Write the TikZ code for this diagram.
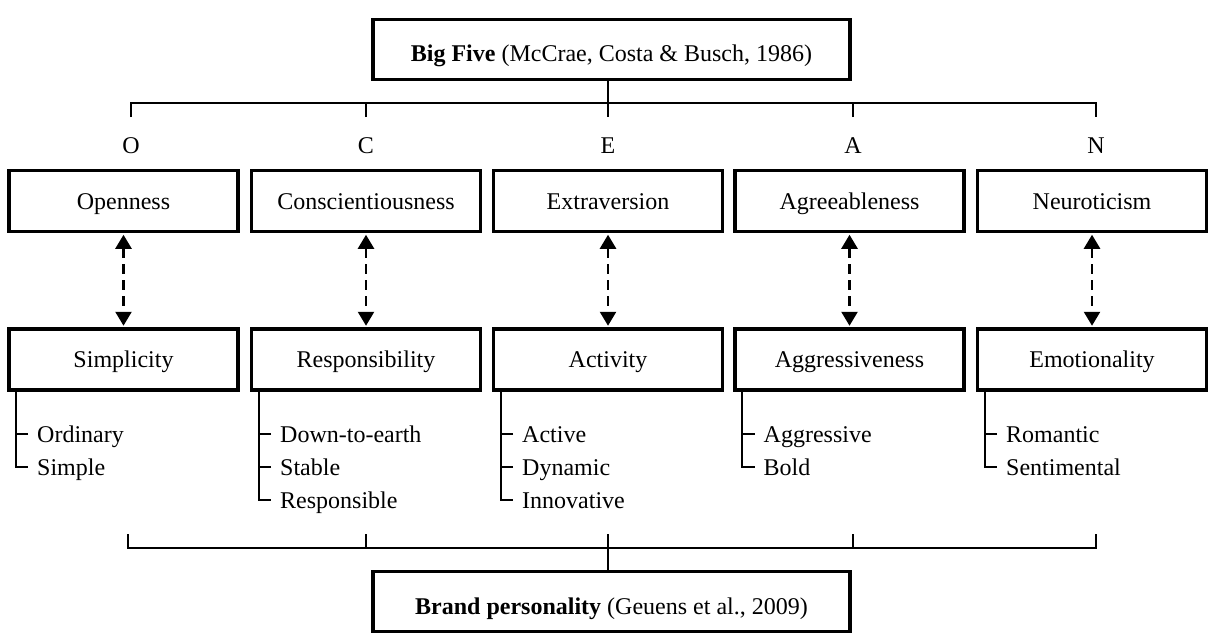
\documentclass[tikz,border=0pt]{standalone}
\usepackage{fontspec}
\setmainfont{Liberation Serif}
\usetikzlibrary{arrows.meta}
\begin{document}
\begin{tikzpicture}[x=1pt,y=-1pt,
  every node/.style={font=\fontsize{24}{28}\selectfont, text height=20pt, text depth=4pt},
  bigbox/.style={draw, line width=3.5pt, minimum width=477pt, minimum height=60pt, inner sep=0pt, text height=25pt, text depth=0pt},
  facbox/.style={draw, line width=3.5pt, minimum width=229pt, minimum height=61pt, inner sep=0pt},
  letter/.style={inner sep=0pt},
  item/.style={anchor=west, inner xsep=9pt, inner ysep=0pt},
  br/.style={line width=2pt},
  sub/.style={line width=2pt},
  dasharrow/.style={line width=2.5pt, dash pattern=on 10pt off 6pt, {Triangle[width=16pt,length=14pt]}-{Triangle[width=16pt,length=14pt]}, shorten <=1.5pt, shorten >=1.5pt}
]
\useasboundingbox (0,0) rectangle (1208,642);

% top and bottom boxes
\node[bigbox] (top) at (611.5,49.5) {\textbf{Big Five} (McCrae, Costa \& Busch, 1986)};
\node[bigbox] (bot) at (611.5,601.5) {\textbf{Brand personality} (Geuens et al., 2009)};

% letters
\node[letter] (lO) at (131,145) {O};
\node[letter] (lC) at (366,145) {C};
\node[letter] (lE) at (608,145) {E};
\node[letter] (lA) at (853,145) {A};
\node[letter] (lN) at (1096,145) {N};

% factor boxes
\node[facbox] (f1) at (123.5,201) {Openness};
\node[facbox] (f2) at (366,201) {Conscientiousness};
\node[facbox] (f3) at (608,201) {Extraversion};
\node[facbox] (f4) at (849.5,201) {Agreeableness};
\node[facbox] (f5) at (1092,201) {Neuroticism};

% brand boxes
\node[facbox] (s1) at (123.5,359.5) {Simplicity};
\node[facbox] (s2) at (366,359.5) {Responsibility};
\node[facbox] (s3) at (608,359.5) {Activity};
\node[facbox] (s4) at (849.5,359.5) {Aggressiveness};
\node[facbox] (s5) at (1092,359.5) {Emotionality};

% dashed double arrows
\foreach \i in {1,...,5} {
  \draw[dasharrow] (f\i.south) -- (s\i.north);
}

% top bracket
\coordinate (tO) at (131,117);
\coordinate (tC) at (366,117);
\coordinate (tE) at (608,117);
\coordinate (tA) at (853,117);
\coordinate (tN) at (1096,117);
\coordinate (tL) at (131,103);
\coordinate (tR) at (1096,103);
\draw[br] (tO) -- (tL) -- (tR) -- (tN);
\draw[br] (tC) -- (tC |- tL);
\draw[br] (tA) -- (tA |- tL);
\draw[br] (top.south -| tE) -- (tE);

% bottom bracket
\coordinate (bO) at (128,534);
\coordinate (bC) at (366,534);
\coordinate (bE) at (608,534);
\coordinate (bA) at (853,534);
\coordinate (bN) at (1096,534);
\coordinate (bL) at (128,548);
\coordinate (bR) at (1096,548);
\draw[br] (bO) -- (bL) -- (bR) -- (bN);
\draw[br] (bC) -- (bC |- bL);
\draw[br] (bA) -- (bA |- bL);
\draw[br] (bE) -- (bot.north -| bE);

% sub-items column 1
\node[item] (i11) at (28,434) {Ordinary};
\node[item] (i12) at (28,467) {Simple};
\draw[sub] ([xshift=9pt]s1.south west) |- (i12.west);
\draw[sub] (i11.west) -- ([xshift=9pt]s1.south west |- i11.west);

% column 2
\node[item] (i21) at (271,434) {Down-to-earth};
\node[item] (i22) at (271,467) {Stable};
\node[item] (i23) at (271,500) {Responsible};
\draw[sub] ([xshift=9pt]s2.south west) |- (i23.west);
\draw[sub] (i21.west) -- ([xshift=9pt]s2.south west |- i21.west);
\draw[sub] (i22.west) -- ([xshift=9pt]s2.south west |- i22.west);

% column 3
\node[item] (i31) at (513,434) {Active};
\node[item] (i32) at (513,467) {Dynamic};
\node[item] (i33) at (513,500) {Innovative};
\draw[sub] ([xshift=9pt]s3.south west) |- (i33.west);
\draw[sub] (i31.west) -- ([xshift=9pt]s3.south west |- i31.west);
\draw[sub] (i32.west) -- ([xshift=9pt]s3.south west |- i32.west);

% column 4
\node[item] (i41) at (754.5,434) {Aggressive};
\node[item] (i42) at (754.5,467) {Bold};
\draw[sub] ([xshift=9pt]s4.south west) |- (i42.west);
\draw[sub] (i41.west) -- ([xshift=9pt]s4.south west |- i41.west);

% column 5
\node[item] (i51) at (997,434) {Romantic};
\node[item] (i52) at (997,467) {Sentimental};
\draw[sub] ([xshift=9pt]s5.south west) |- (i52.west);
\draw[sub] (i51.west) -- ([xshift=9pt]s5.south west |- i51.west);
\end{tikzpicture}
\end{document}
